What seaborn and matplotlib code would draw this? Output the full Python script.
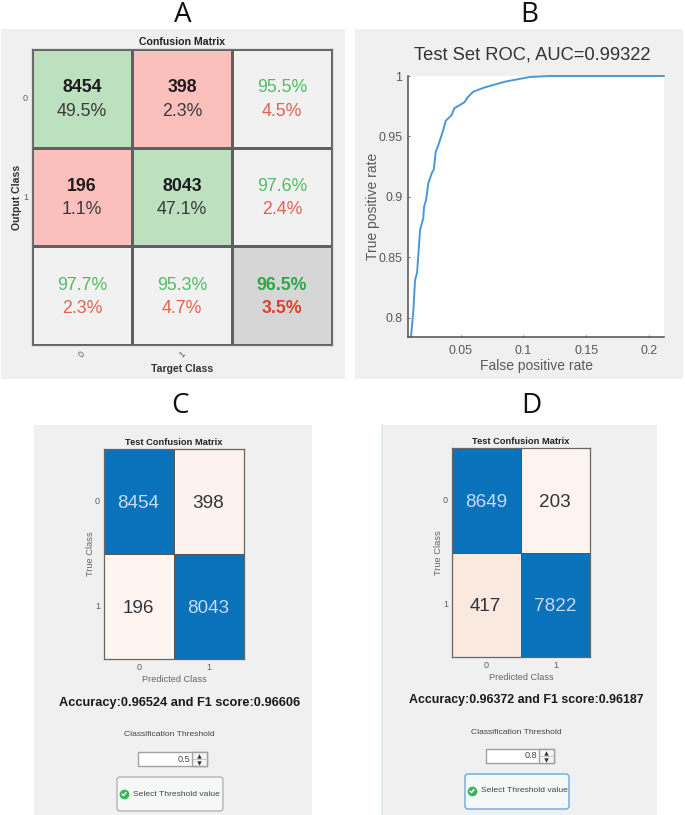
import numpy as np
import pandas as pd
import matplotlib
matplotlib.use('Agg')
import matplotlib.pyplot as plt
import seaborn as sns
from matplotlib.colors import ListedColormap, LinearSegmentedColormap
from matplotlib.patches import Rectangle, FancyBboxPatch

W, H = 685, 815

# A: confusion matrix with totals
a_colors = [[0, 1, 2], [1, 0, 2], [2, 2, 3]]
a_top = [['8454', '398', '95.5%'], ['196', '8043', '97.6%'], ['97.7%', '95.3%', '96.5%']]
a_bottom = [['49.5%', '2.3%', '4.5%'], ['1.1%', '47.1%', '2.4%'], ['2.3%', '4.7%', '3.5%']]

# B: ROC curve
fpr = [0.0104, 0.0123, 0.0136, 0.0152, 0.0176, 0.0202, 0.0208, 0.0224, 0.0242, 0.0274, 0.0285, 0.0301,
       0.0322, 0.0361, 0.0381, 0.0428, 0.0449, 0.0529, 0.0556, 0.06, 0.0693, 0.0853, 0.1052, 0.121, 0.16, 0.212]
tpr = [0.7842, 0.8063, 0.8311, 0.8369, 0.8725, 0.8825, 0.8918, 0.8974, 0.9114, 0.9208, 0.9222, 0.9373,
       0.9429, 0.9553, 0.963, 0.9677, 0.9733, 0.9782, 0.9824, 0.987, 0.9906, 0.9953, 0.9992, 1.0, 1.0, 1.0]
roc_xticks = [0.05, 0.1, 0.15, 0.2]
roc_yticks = [0.8, 0.85, 0.9, 0.95, 1]

# C and D: test confusion matrices
cm_c = [[8454, 398], [196, 8043]]
cm_d = [[8649, 203], [417, 7822]]
classes = ['0', '1']

GREEN, RED = '#52bb62', '#e9604c'
DARK_GRAY = '#5f5f5f'

sns.set_theme(style='white')
plt.rcParams['font.family'] = ['Liberation Sans', 'DejaVu Sans']

fig = plt.figure(figsize=(W / 100, H / 100), dpi=100, facecolor='white')


def px_axes(x0, y0, x1, y1):
    return fig.add_axes([x0 / W, 1 - y1 / H, (x1 - x0) / W, (y1 - y0) / H])


# canvas in pixels for panels and the small controls
bg = fig.add_axes([0, 0, 1, 1], zorder=-1)
bg.set_xlim(0, W)
bg.set_ylim(H, 0)
bg.axis('off')

for x0, y0, x1, y1 in [(1, 29, 345, 379), (355, 29, 683, 379), (34, 425, 312, 815), (382, 425, 657, 815)]:
    bg.add_patch(Rectangle((x0, y0), x1 - x0, y1 - y0, color='#f0f0f0', lw=0))
bg.plot([382.5, 382.5], [425, 815], color='#dde6f0', lw=1.2)

for letter, x in [('A', 183), ('B', 529), ('C', 180), ('D', 531)]:
    y = 15 if letter in 'AB' else 406
    bg.text(x, y, letter, fontsize=20, ha='center', va='center', color='#111111', family='Open Sans')

# Panel A
ax = px_axes(32, 49, 332, 345)
sns.heatmap(a_colors, ax=ax, cmap=ListedColormap(['#bde0bf', '#fbc0bb', '#f1f1f1', '#d6d6d6']),
            vmin=-0.5, vmax=3.5, cbar=False, linewidths=0.9, linecolor='#606060',
            xticklabels=['0', '1', ''], yticklabels=['0', '1', ''])
for spine in ax.spines.values():
    spine.set_visible(True)
    spine.set_color('#707070')
    spine.set_linewidth(0.9)
for r in range(3):
    for c in range(3):
        in_matrix = r < 2 and c < 2
        total = r == 2 and c == 2
        top_color = '#1c1c1c' if in_matrix else ('#2ea846' if total else GREEN)
        bottom_color = '#3a3a3a' if in_matrix else ('#d9432e' if total else RED)
        ax.text(c + 0.5, r + 0.395, a_top[r][c], ha='center', va='center', fontsize=12.8, color=top_color,
                fontweight='bold' if in_matrix or total else 'normal')
        ax.text(c + 0.5, r + 0.63, a_bottom[r][c], ha='center', va='center', fontsize=12.8, color=bottom_color,
                fontweight='bold' if total else 'normal')
ax.tick_params(length=0, labelsize=6.5, labelcolor=DARK_GRAY, pad=3)
plt.setp(ax.get_xticklabels(), rotation=45)
plt.setp(ax.get_yticklabels(), rotation=0)
ax.set_title('Confusion Matrix', fontsize=7.6, fontweight='bold', color='#222222', pad=3)
ax.set_xlabel('Target Class', fontsize=7.6, fontweight='bold', color='#333333')
ax.set_ylabel('Output Class', fontsize=7.6, fontweight='bold', color='#333333')
ax.yaxis.set_label_coords(-0.033, 0.5)
ax.xaxis.set_label_coords(0.5, -0.064)

# Panel B
ax = px_axes(408, 76, 664, 337)
roc = pd.DataFrame({'fpr': fpr, 'tpr': tpr})
sns.lineplot(data=roc, x='fpr', y='tpr', ax=ax, color='#4a98d8', lw=1.4, sort=False, errorbar=None, clip_on=False)
ax.set_xlim(0.008, 0.212)
ax.set_ylim(0.784, 1)
ax.set_xticks(roc_xticks, [f'{t:g}' for t in roc_xticks])
ax.set_yticks(roc_yticks, [f'{t:g}' for t in roc_yticks])
ax.set_facecolor('white')
ax.tick_params(direction='in', length=1.5, width=0.6, color='#555555', labelsize=8.9, labelcolor='#595959', pad=4,
               bottom=True, left=True)
ax.tick_params(axis='x', pad=6)
sns.despine(ax=ax)
for side in ['left', 'bottom']:
    ax.spines[side].set_color('#505050')
    ax.spines[side].set_linewidth(1.1)
ax.set_xlabel('False positive rate', fontsize=10, color='#595959', labelpad=1)
ax.set_ylabel('True positive rate', fontsize=10, color='#595959', labelpad=-1)
ax.set_title('Test Set ROC, AUC=0.99322', fontsize=13.2, color='#333333', pad=12, x=0.485)

# Panels C and D
test_cmap = LinearSegmentedColormap.from_list('test', [(0, '#fff6f1'), (398 / 9000, '#fdf3ee'), (417 / 9000, '#fae8de'),
                                                       (0.85, '#0a72ba'), (1, '#0a72ba')], N=4096)


def test_panel(cm, box, score_text, score_size, score_xy, thresh_xy, spin, divider, threshold, button, button_edge, mark):
    ax = px_axes(*box)
    sns.heatmap(cm, ax=ax, cmap=test_cmap, vmin=0, vmax=9000, cbar=False, annot=False,
                linewidths=0.7, linecolor='#555555', xticklabels=classes, yticklabels=classes)
    for spine in ax.spines.values():
        spine.set_visible(True)
        spine.set_color('#666666')
        spine.set_linewidth(0.9)
    for r in range(2):
        for c in range(2):
            ax.text(c + 0.5 - 0.01, r + 0.52, str(cm[r][c]), ha='center', va='center', fontsize=13.6,
                    color='#c9d9ee' if cm[r][c] > 1000 else '#33333b')
    ax.tick_params(length=0, labelsize=6.5, labelcolor=DARK_GRAY, pad=3)
    plt.setp(ax.get_yticklabels(), rotation=0)
    ax.set_title('Test Confusion Matrix', fontsize=6.7, fontweight='bold', color='#222222', pad=3)
    ax.set_xlabel('Predicted Class', fontsize=6.6, color='#666666', labelpad=2)
    ax.set_ylabel('True Class', fontsize=6.7, color='#666666', labelpad=0)

    bg.text(*score_xy, score_text, fontsize=score_size, fontweight='bold', ha='center', va='center', color='#1a1a1a')
    bg.text(*thresh_xy, 'Classification Threshold', fontsize=6.1, ha='center', va='center', color='#444444')

    # threshold spinner
    x0, y0, x1, y1 = spin
    bg.add_patch(Rectangle((x0, y0), x1 - x0, y1 - y0, fc='white', ec='#a0a0a0', lw=1))
    bg.add_patch(Rectangle((divider, y0), x1 - divider, y1 - y0, fc='#f5f5f5', ec='#a0a0a0', lw=1))
    bg.plot([divider, x1], [(y0 + y1) / 2] * 2, color='#c0c0c0', lw=0.6)
    arrow_x = (divider + x1) / 2
    bg.plot(arrow_x, y0 + 3.5, marker='^', ms=3.2, color='#333333', mew=0)
    bg.plot(arrow_x, y1 - 3.5, marker='v', ms=3.2, color='#333333', mew=0)
    bg.text(divider - 2, (y0 + y1) / 2, threshold, fontsize=6.6, ha='right', va='center', color='#444444')

    # button with green tick
    x0, y0, x1, y1 = button
    bg.add_patch(FancyBboxPatch((x0 + 2, y0 + 2), x1 - x0 - 4, y1 - y0 - 4, boxstyle='round,pad=2,rounding_size=3',
                                fc='#f6f8f8', ec=button_edge, lw=1))
    cx, cy = mark
    bg.plot(cx, cy, marker='o', ms=7, color='#35b558', mew=0)
    bg.plot([cx - 2, cx - 0.5, cx + 2], [cy, cy + 1.7, cy - 1.5], color='white', lw=1)
    bg.text(cx + 9, cy, 'Select Threshold value', fontsize=6.1, ha='left', va='center', color='#444444')


test_panel(cm_c, (104, 449, 244, 659), 'Accuracy:0.96524 and F1 score:0.96606', 9.2, (180, 703), (169, 734),
           (138, 752, 207, 766), 192, '0.5', (117, 777, 223, 811), '#b4b4b4', (124, 794))
test_panel(cm_d, (452, 448, 590, 657), 'Accuracy:0.96372 and F1 score:0.96187', 8.95, (526, 700), (516, 732),
           (486, 749, 554, 763), 539, '0.8', (465, 774, 569, 809), '#6aa8e0', (472, 791))

fig.savefig('out.png', dpi=100)
